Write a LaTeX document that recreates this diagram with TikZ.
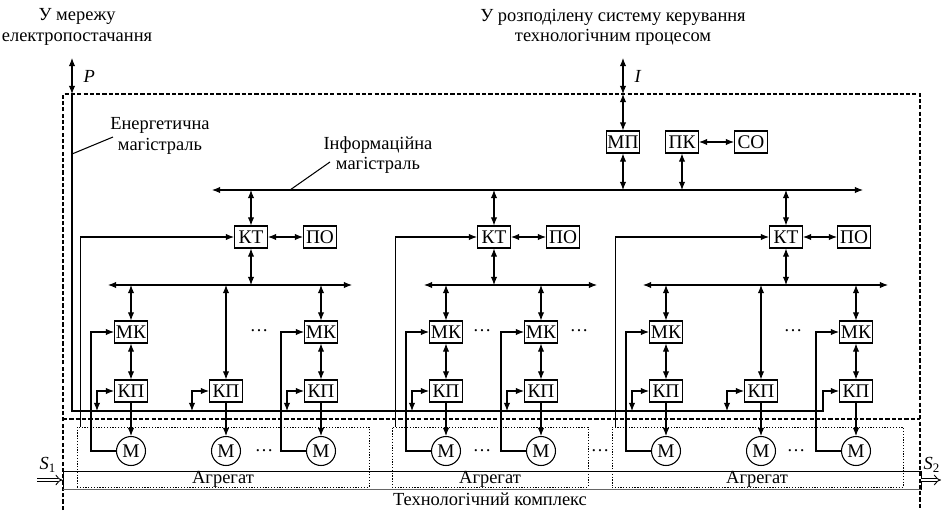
\documentclass[tikz,border=0pt]{standalone}
\usepackage{fontspec}
\setmainfont{Liberation Serif}
\usetikzlibrary{arrows.meta}

\begin{document}
\begin{tikzpicture}[x=0.2mm,y=-0.2mm,line width=0.6pt,
    >={Latex[length=4.6pt,width=3.6pt]},
    font=\fontsize{10.5}{11.5}\selectfont,
    blk/.style={draw,minimum width=6.6mm,minimum height=4.4mm,inner sep=0pt,font=\fontsize{11}{12}\selectfont},
    motor/.style={draw,circle,minimum size=5.8mm,inner sep=0pt,font=\fontsize{11}{12}\selectfont},
    frm/.style={dash pattern=on 2.4pt off 1.2pt},
    aggbox/.style={draw,line width=0.4pt,dash pattern=on 0.7pt off 0.9pt,minimum height=12mm,inner sep=0pt},
    txt/.style={align=center,inner sep=0pt}]
  \useasboundingbox (0,0) rectangle (942,510);

  % external links
  \node[txt] (gridtxt) at (77,27) {У мережу\\електропостачання};
  \node[txt] (dcstxt) at (613,27) {У розподілену систему керування\\технологічним процесом};
  \coordinate (pTop) at (72,58);
  \coordinate (pIn) at (72,94);
  \coordinate (iTop) at (623,58);
  \coordinate (iIn) at (623,94);
  \draw[<->] (pTop) -- node[right=3pt] {\textit{P}} (pIn);
  \draw[<->] (iTop) -- node[right=3pt] {\textit{I}} (iIn);

  % system and plant borders
  \draw[frm] (63,510) -- (63,94) -- (920,94) -- (920,510);
  \draw[frm] (63,419) -- (920,419);

  % information level
  \node[blk] (mp) at (623,142) {МП};
  \node[blk] (pk) at (682,142) {ПК};
  \node[blk] (co) at (751,142) {СО};
  \coordinate (ibL) at (212,190);
  \coordinate (ibR) at (863,190);
  \draw[<->] (ibL) -- (ibR);
  \draw[<->] (iIn) -- (mp.north);
  \draw[<->] (mp.south) -- (mp.south |- ibL);
  \draw[<->] (pk.south) -- (pk.south |- ibL);
  \draw[<->] (pk) -- (co);
  \node[txt] (infotxt) at (378,155) {Інформаційна\\магістраль};
  \coordinate (ibTap) at (290,190);
  \draw (ibTap) -- ++(40,-28);
  \node[txt] (enrtxt) at (160,136) {Енергетична\\магістраль};
  \coordinate (eTap) at (72,154);
  \draw (eTap) -- ++(41,-17);

  % technological controllers
  \node[blk] (kt1) at (251,237) {КТ};
  \node[blk] (po1) at (320,237) {ПО};
  \node[blk] (kt2) at (494,237) {КТ};
  \node[blk] (po2) at (563,237) {ПО};
  \node[blk] (kt3) at (786,237) {КТ};
  \node[blk] (po3) at (854,237) {ПО};
  \coordinate (lbL1) at (108,285);
  \coordinate (lbR1) at (352,285);
  \coordinate (lbL2) at (424,285);
  \coordinate (lbR2) at (597,285);
  \coordinate (lbL3) at (643,285);
  \coordinate (lbR3) at (888,285);
  \foreach \k in {1,2,3} {
    \draw[<->] (lbL\k) -- (lbR\k);
    \draw[<->] (kt\k.north |- ibL) -- (kt\k.north);
    \draw[<->] (kt\k) -- (po\k);
    \draw[<->] (kt\k.south) -- (kt\k.south |- lbL\k);
  }

  % machine controllers, converters, motors
  \node[blk] (mk11) at (131,332) {МК};
  \node[blk] (mk13) at (321,332) {МК};
  \node[blk] (mk21) at (446,332) {МК};
  \node[blk] (mk22) at (541,332) {МК};
  \node[blk] (mk31) at (666,332) {МК};
  \node[blk] (mk33) at (856,332) {МК};
  \foreach \n/\x in {11/131,12/226,13/321,21/446,22/541,31/666,32/761,33/856} {
    \node[blk] (kp\n) at (\x,391) {КП};
    \node[motor] (m\n) at (\x,451) {М};
    \draw[->] (kp\n) -- (m\n);
  }
  \foreach \n/\g in {11/1,13/1,21/2,22/2,31/3,33/3} {
    \draw[<->] (mk\n.north |- lbL\g) -- (mk\n.north);
    \draw[<->] (mk\n) -- (kp\n);
    \draw[->] (m\n.west) -- ++(-25,0) |- (mk\n.west);
  }
  \draw[<->] (kp12.north |- lbL1) -- (kp12.north);
  \draw[<->] (kp32.north |- lbL3) -- (kp32.north);
  \node (dt1) at (259,331) {\ldots};
  \node (dt2) at (482,331) {\ldots};
  \node (dt3) at (579,331) {\ldots};
  \node (dt4) at (793,331) {\ldots};
  \node (dt5) at (264,451) {\ldots};
  \node (dt6) at (482,451) {\ldots};
  \node (dt7) at (600,451) {\ldots};
  \node (dt8) at (796,451) {\ldots};

  % power supply
  \coordinate (eCorner) at (72,411);
  \coordinate (eEnd) at (823,411);
  \draw[->] (pIn) -- (eCorner) -- (eEnd) |- (kp33.west);
  \foreach \n in {11,12,13,21,22,31,32}
    \draw[<->] (kp\n.west) -- ++(-17,0) -- ++(0,20);

  % aggregates
  \node[aggbox,minimum width=58.4mm] (agg1) at (223,457) {};
  \node[aggbox,minimum width=39.2mm] (agg2) at (490,457) {};
  \node[aggbox,minimum width=58.2mm] (agg3) at (757.5,457) {};
  \foreach \k in {1,2,3}
    \draw[->] ([xshift=0.8mm]agg\k.north west) |- (kt\k.west);
  \node (agglbl1) at (223,479) {Агрегат};
  \node (agglbl2) at (490,479) {Агрегат};
  \node (agglbl3) at (757,479) {Агрегат};

  % conveyor
  \node[draw,line width=0.5pt,minimum width=171.6mm,minimum height=3.6mm,inner sep=0pt] (conv) at (492,480) {};
  \draw[line width=1pt,black!60] (conv.south west) -- (conv.south east);
  \coordinate (s1) at (37,480);
  \coordinate (s2) at (941,480);
  \draw[double,double distance=1.6pt,line width=0.5pt,-{Implies}] (s1) -- (conv.west);
  \draw[double,double distance=1.6pt,line width=0.5pt,-{Implies}] (conv.east) -- (s2);
  \node (s1lbl) at (48,465) {\textit{S}\textsubscript{1}};
  \node (s2lbl) at (932,465) {\textit{S}\textsubscript{2}};
  \node (plant) at (490,499) {Технологічний комплекс};
\end{tikzpicture}
\end{document}
